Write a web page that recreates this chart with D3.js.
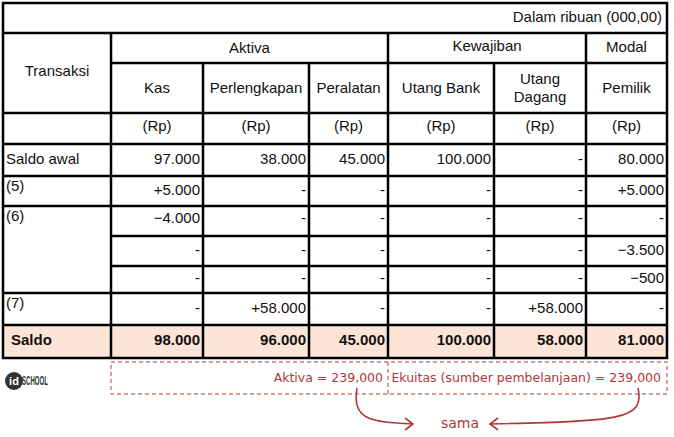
<!DOCTYPE html><html><head><meta charset="utf-8"><script src="https://cdn.jsdelivr.net/npm/d3@7"></script>
<style>body{margin:0;background:#fff}text{font-family:"Liberation Sans",Arial,sans-serif}</style></head><body><svg id="c" width="674" height="437"></svg>
<script>
const columns=["Kas","Perlengkapan","Peralatan","Utang Bank","Utang Dagang","Pemilik"];
const rowLabels=["Saldo awal","(5)","(6)","","","(7)","Saldo"];
const kas=["97.000","+5.000","\u22124.000","-","-","-","98.000"];
const perlengkapan=["38.000","-","-","-","-","+58.000","96.000"];
const peralatan=["45.000","-","-","-","-","-","45.000"];
const utangBank=["100.000","-","-","-","-","-","100.000"];
const utangDagang=["-","-","-","-","-","+58.000","58.000"];
const pemilik=["80.000","+5.000","-","\u22123.500","\u2212500","-","81.000"];
const series=[kas,perlengkapan,peralatan,utangBank,utangDagang,pemilik];
const svg=d3.select("#c");
const xb=[3,111,203,309,388,494,586,667];
const yb=[3,33,63,113,144,176,206,236,266,293,325,358];
const red="#b0383a";
svg.append("rect").attr("x",xb[0]).attr("y",yb[10]).attr("width",xb[7]-xb[0]).attr("height",yb[11]-yb[10]).attr("fill","#fce4d6");
const L=(x1,y1,x2,y2)=>svg.append("line").attr("x1",x1).attr("y1",y1).attr("x2",x2).attr("y2",y2).attr("stroke","#000").attr("stroke-width",2.5);
svg.append("rect").attr("x",xb[0]).attr("y",yb[0]).attr("width",xb[7]-xb[0]).attr("height",yb[11]-yb[0]).attr("fill","none").attr("stroke","#000").attr("stroke-width",2.5);
L(xb[0],yb[1],xb[7],yb[1]);
L(xb[1],yb[2],xb[7],yb[2]);
[3,4,5,6,7,8,9,10].forEach(i=>{const x0=(i===7||i===8)?xb[1]:xb[0];L(x0,yb[i],xb[7],yb[i]);});
[1,4,6].forEach(i=>L(xb[i],yb[1],xb[i],yb[11]));
[2,3,5].forEach(i=>L(xb[i],yb[2],xb[i],yb[11]));
const T=(x,y,s,a,o={})=>svg.append("text").attr("x",x).attr("y",y).attr("text-anchor",a||"middle").attr("dominant-baseline","middle").attr("font-size",o.fs||15).attr("font-weight",o.b?"bold":"normal").attr("fill",o.c||"#111").text(s);
T(xb[7]-5,18,"Dalam ribuan (000,00)","end");
T((xb[1]+xb[4])/2,49,"Aktiva");T((xb[4]+xb[6])/2,47,"Kewajiban");T((xb[6]+xb[7])/2,48,"Modal");
T(57,72,"Transaksi");
columns.forEach((c,i)=>{const cx=(xb[i+1]+xb[i+2])/2;
 if(c==="Utang Dagang"){T(cx,80,"Utang");T(cx,98,"Dagang");}
 else T(cx,89,c);
 T(cx,127,"(Rp)");});
rowLabels.forEach((r,j)=>{const y0=yb[j+4],y1=yb[j+5];const bold=j===6;
 if(r){const ty=(j===1||j===2||j===5)?y0+11:(y0+y1)/2;T(bold?11:6,ty,r,"start",{b:bold});}
 series.forEach((s,i)=>T(xb[i+2]-3,(y0+y1)/2+(j===2?-2:0),s[j],"end",{b:bold}));});
const ds=svg.append("g").attr("stroke",red).attr("stroke-width",1).attr("stroke-dasharray","4,3").attr("fill","none");
ds.append("rect").attr("x",111).attr("y",362).attr("width",556).attr("height",32);
ds.append("line").attr("x1",388).attr("y1",362).attr("x2",388).attr("y2",394);
const hf='"Comic Sans MS","DejaVu Sans",sans-serif';
svg.append("text").attr("x",383).attr("y",378).attr("text-anchor","end").attr("dominant-baseline","middle").attr("font-size",12.5).attr("fill",red).style("font-family",hf).text("Aktiva = 239,000");
svg.append("text").attr("x",661).attr("y",378).attr("text-anchor","end").attr("dominant-baseline","middle").attr("font-size",12.5).attr("fill",red).style("font-family",hf).text("Ekuitas (sumber pembelanjaan) = 239,000");
svg.append("text").attr("x",460).attr("y",424).attr("text-anchor","middle").attr("dominant-baseline","middle").attr("font-size",14).attr("fill",red).style("font-family",hf).text("sama");
const ar=svg.append("g").attr("stroke",red).attr("stroke-width",1.6).attr("fill","none");
ar.append("path").attr("d","M357,388 C352,420 370,422 413,424");
ar.append("path").attr("d","M405,418 L413,424 L405,430");
ar.append("path").attr("d","M638,388 C645,420 620,421 490,424");
ar.append("path").attr("d","M498,418 L490,424 L498,430");
svg.append("circle").attr("cx",14).attr("cy",381).attr("r",9).attr("fill","#333");
svg.append("text").attr("x",14).attr("y",382).attr("text-anchor","middle").attr("dominant-baseline","middle").attr("font-size",11).attr("font-weight","bold").attr("fill","#fff").text("id");
svg.append("text").attr("x",22).attr("y",382).attr("dominant-baseline","middle").attr("font-size",13).attr("font-weight","bold").attr("fill","#333").attr("textLength",26).attr("lengthAdjust","spacingAndGlyphs").text("SCHOOL");
</script></body></html>
